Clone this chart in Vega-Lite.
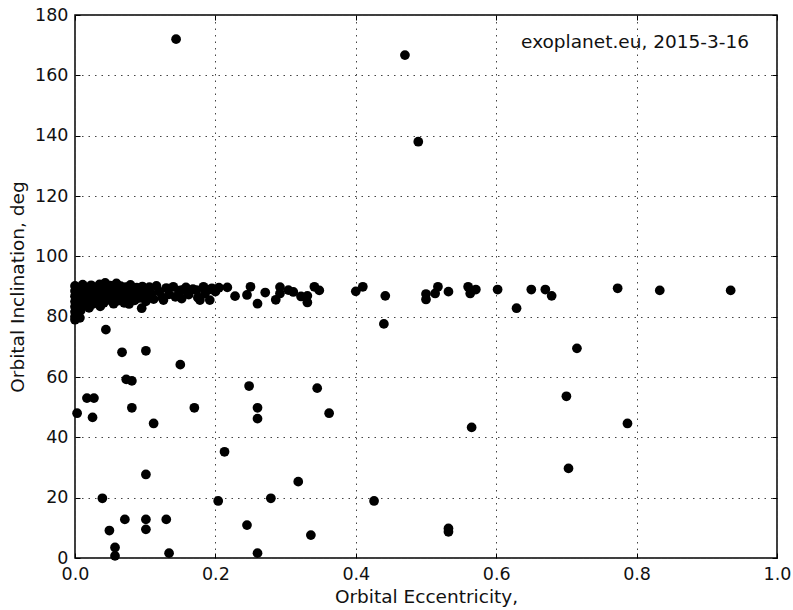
{
  "$schema": "https://vega.github.io/schema/vega-lite/v6.json",
  "autosize": "none",
  "width": 702,
  "height": 543,
  "padding": {"left": 75, "top": 15, "right": 16, "bottom": 52},
  "background": "white",
  "config": {
    "font": "DejaVu Sans",
    "view": {"stroke": "#000", "strokeWidth": 1.5},
    "axis": {
      "domain": false,
      "labelFlush": false,
      "labelFont": "DejaVu Sans",
      "titleFont": "DejaVu Sans",
      "labelFontSize": 17.5,
      "titleFontSize": 18.5,
      "titleFontWeight": "normal",
      "labelColor": "#111",
      "titleColor": "#111",
      "tickColor": "#000",
      "tickWidth": 1,
      "gridColor": "#444",
      "gridDash": [1.5, 5],
      "gridWidth": 1,
      "gridOpacity": 1
    }
  },
  "resolve": {"axis": {"x": "independent", "y": "independent"}},
  "layer": [
    {
      "data": {
        "values": [
          {"e": 0.0, "i": 90.2}, {"e": 0.0, "i": 88.5}, {"e": 0.0, "i": 86.8}, {"e": 0.0, "i": 85.0}, {"e": 0.0, "i": 83.3}, {"e": 0.0, "i": 81.6}, {"e": 0.0, "i": 80.0}, {"e": 0.0, "i": 79.0},
          {"e": 0.004, "i": 89.6}, {"e": 0.005, "i": 87.2}, {"e": 0.006, "i": 84.5}, {"e": 0.008, "i": 82.0}, {"e": 0.007, "i": 79.6},
          {"e": 0.011, "i": 90.6}, {"e": 0.012, "i": 88.1}, {"e": 0.013, "i": 85.9}, {"e": 0.012, "i": 83.6},
          {"e": 0.017, "i": 89.3}, {"e": 0.018, "i": 87.0}, {"e": 0.019, "i": 84.8}, {"e": 0.02, "i": 82.9},
          {"e": 0.023, "i": 90.4}, {"e": 0.024, "i": 88.3}, {"e": 0.026, "i": 86.1}, {"e": 0.025, "i": 84.2},
          {"e": 0.029, "i": 89.1}, {"e": 0.031, "i": 87.5}, {"e": 0.032, "i": 85.4}, {"e": 0.036, "i": 83.4},
          {"e": 0.035, "i": 90.7}, {"e": 0.037, "i": 88.8}, {"e": 0.039, "i": 86.5}, {"e": 0.041, "i": 84.6},
          {"e": 0.043, "i": 91.2}, {"e": 0.045, "i": 89.4}, {"e": 0.046, "i": 87.6}, {"e": 0.047, "i": 85.6},
          {"e": 0.05, "i": 90.3}, {"e": 0.052, "i": 88.2}, {"e": 0.054, "i": 86.3}, {"e": 0.055, "i": 84.3},
          {"e": 0.059, "i": 91.0}, {"e": 0.058, "i": 89.1}, {"e": 0.06, "i": 87.1}, {"e": 0.062, "i": 85.3},
          {"e": 0.065, "i": 90.1}, {"e": 0.066, "i": 88.4}, {"e": 0.068, "i": 86.5}, {"e": 0.07, "i": 84.6},
          {"e": 0.072, "i": 89.8}, {"e": 0.074, "i": 87.8}, {"e": 0.075, "i": 85.9}, {"e": 0.077, "i": 84.2},
          {"e": 0.079, "i": 90.5}, {"e": 0.081, "i": 88.9}, {"e": 0.083, "i": 87.0}, {"e": 0.085, "i": 85.4},
          {"e": 0.088, "i": 89.6}, {"e": 0.09, "i": 87.9}, {"e": 0.092, "i": 86.2}, {"e": 0.095, "i": 82.8},
          {"e": 0.096, "i": 90.0}, {"e": 0.098, "i": 88.5}, {"e": 0.1, "i": 86.7}, {"e": 0.101, "i": 85.1},
          {"e": 0.106, "i": 89.8}, {"e": 0.109, "i": 87.6}, {"e": 0.112, "i": 85.8}, {"e": 0.116, "i": 90.2},
          {"e": 0.12, "i": 88.3}, {"e": 0.124, "i": 86.4}, {"e": 0.126, "i": 85.5}, {"e": 0.13, "i": 89.5},
          {"e": 0.134, "i": 87.4}, {"e": 0.14, "i": 89.9}, {"e": 0.143, "i": 86.6}, {"e": 0.148, "i": 88.6},
          {"e": 0.152, "i": 88.8}, {"e": 0.152, "i": 86.0}, {"e": 0.158, "i": 89.7}, {"e": 0.162, "i": 87.3},
          {"e": 0.168, "i": 89.1}, {"e": 0.173, "i": 88.8}, {"e": 0.175, "i": 86.3}, {"e": 0.178, "i": 85.5},
          {"e": 0.183, "i": 89.9}, {"e": 0.185, "i": 87.6}, {"e": 0.19, "i": 88.9}, {"e": 0.192, "i": 85.5},
          {"e": 0.195, "i": 89.4}, {"e": 0.2, "i": 88.3}, {"e": 0.205, "i": 89.6},
          {"e": 0.217, "i": 89.7}, {"e": 0.228, "i": 86.8}, {"e": 0.245, "i": 87.2}, {"e": 0.25, "i": 89.9},
          {"e": 0.26, "i": 84.3}, {"e": 0.271, "i": 88.0}, {"e": 0.286, "i": 85.6}, {"e": 0.292, "i": 89.8},
          {"e": 0.292, "i": 87.7}, {"e": 0.304, "i": 88.8}, {"e": 0.311, "i": 88.2}, {"e": 0.322, "i": 86.7},
          {"e": 0.331, "i": 86.9}, {"e": 0.331, "i": 84.7}, {"e": 0.341, "i": 89.9}, {"e": 0.348, "i": 88.7},
          {"e": 0.4, "i": 88.4}, {"e": 0.41, "i": 89.9}, {"e": 0.442, "i": 86.9}, {"e": 0.44, "i": 77.6},
          {"e": 0.5, "i": 87.5}, {"e": 0.5, "i": 85.7}, {"e": 0.513, "i": 87.7}, {"e": 0.517, "i": 89.9},
          {"e": 0.532, "i": 88.3}, {"e": 0.56, "i": 89.9}, {"e": 0.563, "i": 87.7}, {"e": 0.571, "i": 89.0},
          {"e": 0.602, "i": 89.0}, {"e": 0.629, "i": 82.8}, {"e": 0.65, "i": 89.0}, {"e": 0.67, "i": 89.0},
          {"e": 0.679, "i": 86.9}, {"e": 0.773, "i": 89.4}, {"e": 0.833, "i": 88.7}, {"e": 0.934, "i": 88.7},
          {"e": 0.144, "i": 172.0}, {"e": 0.47, "i": 166.7}, {"e": 0.489, "i": 138.0},
          {"e": 0.715, "i": 69.5}, {"e": 0.7, "i": 53.6}, {"e": 0.787, "i": 44.6}, {"e": 0.565, "i": 43.3}, {"e": 0.703, "i": 29.7},
          {"e": 0.044, "i": 75.7}, {"e": 0.067, "i": 68.2}, {"e": 0.101, "i": 68.7}, {"e": 0.15, "i": 64.1},
          {"e": 0.073, "i": 59.2}, {"e": 0.081, "i": 58.7}, {"e": 0.017, "i": 53.0}, {"e": 0.027, "i": 53.0},
          {"e": 0.081, "i": 49.8}, {"e": 0.17, "i": 49.8}, {"e": 0.003, "i": 48.0}, {"e": 0.025, "i": 46.6},
          {"e": 0.112, "i": 44.6}, {"e": 0.248, "i": 57.0}, {"e": 0.26, "i": 49.8}, {"e": 0.26, "i": 46.2},
          {"e": 0.345, "i": 56.3}, {"e": 0.362, "i": 48.0}, {"e": 0.213, "i": 35.2},
          {"e": 0.039, "i": 19.8}, {"e": 0.049, "i": 9.1}, {"e": 0.071, "i": 12.8}, {"e": 0.057, "i": 3.5},
          {"e": 0.057, "i": 0.7}, {"e": 0.101, "i": 27.7}, {"e": 0.101, "i": 12.8}, {"e": 0.101, "i": 9.5},
          {"e": 0.13, "i": 12.8}, {"e": 0.134, "i": 1.6}, {"e": 0.204, "i": 18.9}, {"e": 0.245, "i": 10.9},
          {"e": 0.26, "i": 1.6}, {"e": 0.279, "i": 19.8}, {"e": 0.318, "i": 25.3}, {"e": 0.336, "i": 7.6},
          {"e": 0.426, "i": 18.9}, {"e": 0.532, "i": 8.7}, {"e": 0.532, "i": 9.8}
        ]
      },
      "mark": {"type": "point", "filled": true, "shape": "circle", "size": 95, "color": "#000", "opacity": 1},
      "encoding": {
        "x": {
          "field": "e", "type": "quantitative",
          "scale": {"domain": [0, 1], "nice": false, "zero": false, "padding": 0},
          "axis": {"title": "Orbital Eccentricity,", "values": [0, 0.2, 0.4, 0.6, 0.8, 1.0], "format": ".1f", "grid": true, "tickSize": -5, "labelPadding": 12, "titlePadding": 5}
        },
        "y": {
          "field": "i", "type": "quantitative",
          "scale": {"domain": [0, 180], "nice": false, "zero": false, "padding": 0},
          "axis": {"title": "Orbital Inclination, deg", "values": [0, 20, 40, 60, 80, 100, 120, 140, 160, 180], "grid": true, "tickSize": -5, "labelPadding": 12, "titlePadding": 7}
        }
      }
    },
    {
      "data": {"values": [{"label": "exoplanet.eu, 2015-3-16", "x": 0.96, "y": 171.2}]},
      "mark": {"type": "text", "align": "right", "baseline": "middle", "font": "DejaVu Sans", "fontSize": 18.5, "fontWeight": "normal", "color": "#111"},
      "encoding": {
        "x": {"field": "x", "type": "quantitative", "axis": {"orient": "top", "title": null, "labels": false, "grid": false, "tickSize": -5, "values": [0, 0.2, 0.4, 0.6, 0.8, 1.0]}},
        "y": {"field": "y", "type": "quantitative", "axis": {"orient": "right", "title": null, "labels": false, "grid": false, "tickSize": -5, "values": [0, 20, 40, 60, 80, 100, 120, 140, 160, 180]}},
        "text": {"field": "label"}
      }
    }
  ]
}
